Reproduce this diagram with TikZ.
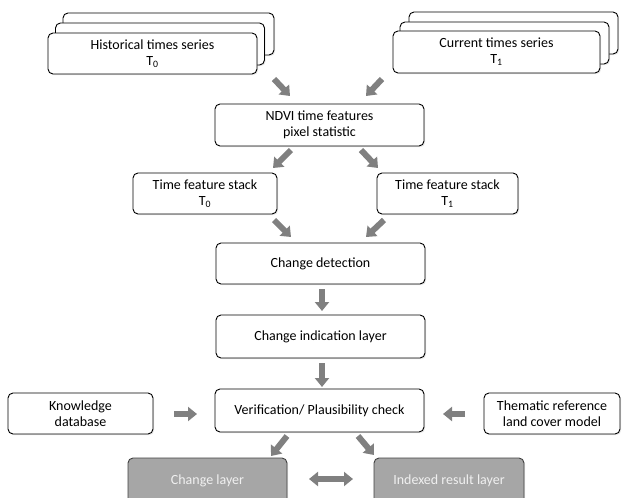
\documentclass[tikz,border=0pt]{standalone}
\usepackage{fontspec}
\setmainfont{Carlito}
\usetikzlibrary{arrows.meta,shadows}
\definecolor{arrgray}{RGB}{128,128,128}
\definecolor{resgray}{RGB}{166,166,166}
\begin{document}
\begin{tikzpicture}[x=1pt,y=-1pt,
  box/.style={draw=black, line width=0.9pt, rounded corners=5pt, fill=white,
    align=center, inner sep=0pt, font=\fontsize{14}{16}\selectfont,
    drop shadow={shadow xshift=1.2pt, shadow yshift=-1.2pt, opacity=0.18}},
  resbox/.style={box, fill=resgray, text=white!94!black, draw=black!75},
  barrow/.style={draw=arrgray, line width=6pt, -{Triangle[width=14pt,length=9pt]}},
]
\useasboundingbox (0,0) rectangle (622,498);
\clip (0,0) rectangle (622,498);

% stacked input series
\node[box, minimum width=211pt, minimum height=42pt] (hist3) at (168.5,34) {};
\node[box, minimum width=209pt, minimum height=42pt] (hist2) at (160,44) {};
\node[box, minimum width=209pt, minimum height=41pt] (hist) at (152.5,53.5) {Historical times series\\T\textsubscript{0}};

\node[box, minimum width=209pt, minimum height=42pt] (cur3) at (513.5,33) {};
\node[box, minimum width=209pt, minimum height=42pt] (cur2) at (504.5,43) {};
\node[box, minimum width=207pt, minimum height=42pt] (cur) at (496.5,52) {Current times series\\T\textsubscript{1}};

% main chain
\node[box, minimum width=209pt, minimum height=42pt] (ndvi) at (319.5,125) {NDVI time features\\pixel statistic};
\node[box, minimum width=144pt, minimum height=41pt] (ts0) at (205,193.5) {Time feature stack\\T\textsubscript{0}};
\node[box, minimum width=141pt, minimum height=41pt] (ts1) at (447.5,193.5) {Time feature stack\\T\textsubscript{1}};
\node[box, minimum width=209pt, minimum height=41pt] (cd) at (320.5,263.5) {Change detection};
\node[box, minimum width=209pt, minimum height=43pt] (cil) at (320.5,336.5) {Change indication layer};
\node[box, minimum width=209pt, minimum height=43pt] (ver) at (319.5,410.5) {Verification/ Plausibility check};
\node[box, minimum width=145pt, minimum height=41pt] (kdb) at (80.5,413.5) {Knowledge\\database};
\node[box, minimum width=136pt, minimum height=41pt] (thm) at (552,413.5) {Thematic reference\\land cover model};
\node[resbox, minimum width=159pt, minimum height=46pt] (cl) at (207.5,481) {Change layer};
\node[resbox, minimum width=150pt, minimum height=46pt] (irl) at (449,481) {Indexed result layer};

% arrow end points
\coordinate (a1s) at (274,79);  \coordinate (a1e) at (290,96);
\coordinate (a2s) at (382,79);  \coordinate (a2e) at (366,96);
\coordinate (a3s) at (291,150); \coordinate (a3e) at (273,168);
\coordinate (a4s) at (361,150); \coordinate (a4e) at (378,168);
\coordinate (a5s) at (274,220); \coordinate (a5e) at (291,237);
\coordinate (a6s) at (384,220); \coordinate (a6e) at (366,237);
\coordinate (a7s) at (322,289); \coordinate (a7e) at (322,311);
\coordinate (a8s) at (322,363); \coordinate (a8e) at (322,387);
\coordinate (a9s) at (174,414); \coordinate (a9e) at (197,414);
\coordinate (a10s) at (465,414); \coordinate (a10e) at (443,414);
\coordinate (a11s) at (287,436); \coordinate (a11e) at (271,456);
\coordinate (a12s) at (358,436); \coordinate (a12e) at (374,455);
\coordinate (dmid) at (331,479); \coordinate (dl) at (309,479); \coordinate (dr) at (353,479);

\draw[barrow] (a1s) -- (a1e);
\draw[barrow] (a2s) -- (a2e);
\draw[barrow] (a3s) -- (a3e);
\draw[barrow] (a4s) -- (a4e);
\draw[barrow] (a5s) -- (a5e);
\draw[barrow] (a6s) -- (a6e);
\draw[barrow] (a7s) -- (a7e);
\draw[barrow] (a8s) -- (a8e);
\draw[barrow] (a9s) -- (a9e);
\draw[barrow] (a10s) -- (a10e);
\draw[barrow] (a11s) -- (a11e);
\draw[barrow] (a12s) -- (a12e);
\draw[barrow] (dmid) -- (dl);
\draw[barrow] (dmid) -- (dr);
\end{tikzpicture}
\end{document}
